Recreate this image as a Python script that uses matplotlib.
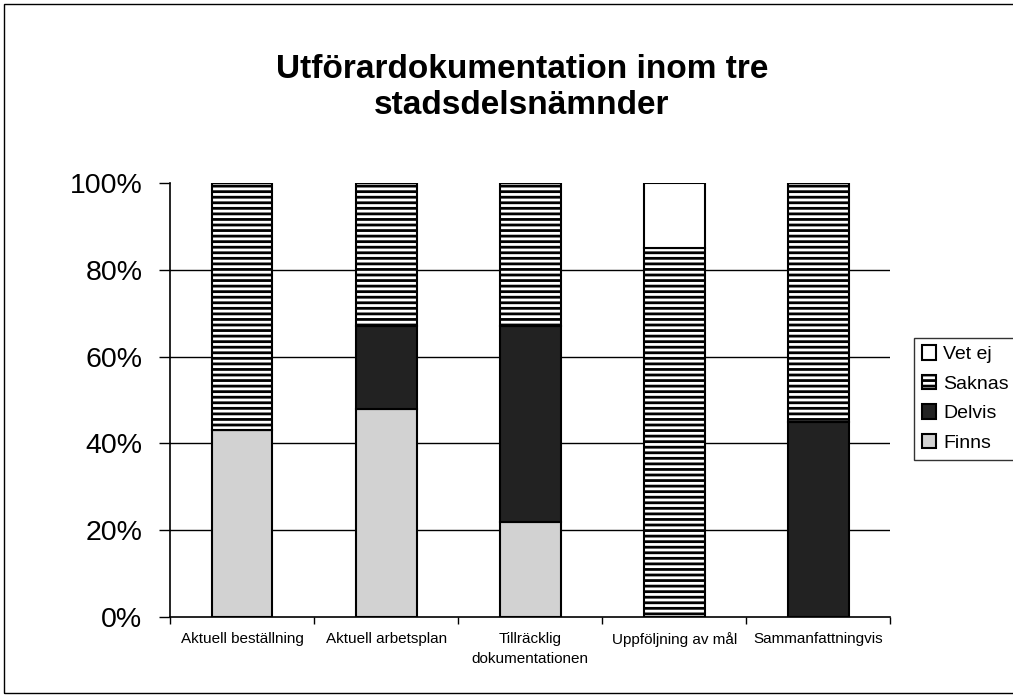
import numpy as np
import matplotlib
matplotlib.use("Agg")
import matplotlib.pyplot as plt
from matplotlib.patches import Rectangle

# andelar i procent per kategori
categories = ["Aktuell beställning", "Aktuell arbetsplan", "Tillräcklig\ndokumentationen",
              "Uppföljning av mål", "Sammanfattningvis"]
finns = [43, 48, 22, 0, 0]
delvis = [0, 19, 45, 0, 45]
saknas = [57, 33, 33, 85, 55]
vet_ej = [0, 0, 0, 15, 0]
y_ticks = [0, 20, 40, 60, 80, 100]
y_labels = ["0%", "20%", "40%", "60%", "80%", "100%"]

plt.rcParams['font.family'] = ['Liberation Sans', 'DejaVu Sans']
plt.rcParams['hatch.linewidth'] = 2.0

fig = plt.figure(figsize=(10.13, 6.96), dpi=100)
ax = fig.add_axes([0.168, 0.1135, 0.711, 0.6235])

x = np.arange(len(categories))
w = 0.42
b1 = ax.bar(x, finns, w, color="#d2d2d2", edgecolor="black", linewidth=1.5, label="Finns", zorder=3)
bottom = np.array(finns)
b2 = ax.bar(x, delvis, w, bottom=bottom, color="#222222", edgecolor="black", linewidth=1.5, label="Delvis", zorder=3)
bottom = bottom + np.array(delvis)
b3 = ax.bar(x, saknas, w, bottom=bottom, color="white", edgecolor="black", hatch="---", linewidth=1.5, label="Saknas", zorder=3)
bottom = bottom + np.array(saknas)
b4 = ax.bar(x, vet_ej, w, bottom=bottom, color="white", edgecolor="black", linewidth=1.5, label="Vet ej", zorder=3)

ax.set_xlim(-0.5, len(categories) - 0.5)
ax.set_ylim(0, 100)
ax.set_yticks(y_ticks)
ax.set_yticklabels(y_labels, fontsize=20.5)
ax.set_xticks(x)
ax.set_xticklabels(categories, fontsize=11, linespacing=1.5)
ax.set_xticks(np.arange(-0.5, len(categories)), minor=True)
ax.tick_params(axis="x", which="major", length=0, pad=11)
ax.tick_params(axis="x", which="minor", length=5, width=1)
ax.tick_params(axis="y", length=8, width=1, pad=12)
for yv in y_ticks[1:-1]:
    ax.axhline(yv, color="black", linewidth=1, zorder=1)
ax.spines["top"].set_visible(False)
ax.spines["right"].set_visible(False)
ax.spines["left"].set_linewidth(1.2)
ax.spines["bottom"].set_linewidth(1.2)

fig.text(0.515, 0.874, "Utförardokumentation inom tre\nstadsdelsnämnder", ha="center", va="center",
         fontsize=24, fontweight="bold", linespacing=1.2)

leg = ax.legend(handles=[b4, b3, b2, b1], loc="upper left", bbox_to_anchor=(0.902, 0.515),
                bbox_transform=fig.transFigure, frameon=True, fancybox=False, edgecolor="black",
                fontsize=14, handlelength=0.75, handleheight=0.75, handletextpad=0.35,
                labelspacing=0.6, borderpad=0.4, borderaxespad=0)
leg.get_frame().set_linewidth(1)

fig.patches.append(Rectangle((0.004, 0.004), 1.2, 0.99, transform=fig.transFigure,
                             fill=False, edgecolor="black", linewidth=1))

fig.savefig("out.png", dpi=100)
